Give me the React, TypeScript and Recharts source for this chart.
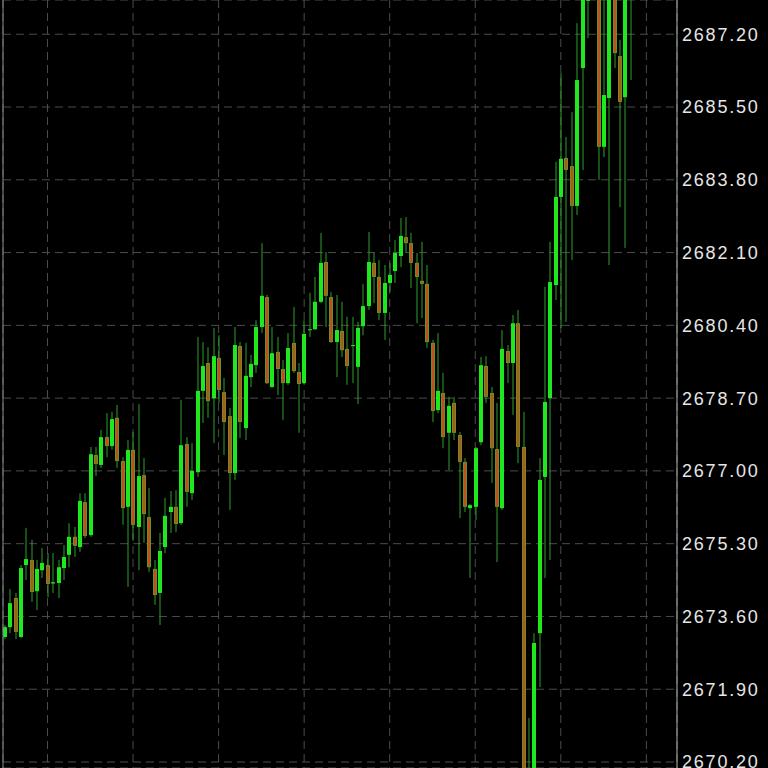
import React from 'react';
import { ComposedChart, Bar, XAxis, YAxis, CartesianGrid } from 'recharts';

// OHLC per bar (oldest first)
const opens = [
  2673.12, 2673.35, 2674.03, 2673.12, 2674.8, 2674.92, 2674.19, 2674.68, 2674.8, 2674.37,
  2674.38, 2674.73, 2675.04, 2675.46, 2675.22, 2676.27, 2675.5, 2677.37, 2677.14, 2677.79,
  2677.58, 2678.24, 2677.23, 2676.16, 2677.49, 2675.69, 2676.9, 2675.92, 2674.71, 2674.15,
  2675.22, 2676.04, 2676.16, 2675.78, 2677.63, 2676.48, 2676.97, 2678.87, 2679.52, 2678.7,
  2679.64, 2678.84, 2678.28, 2676.95, 2679.92, 2678.0, 2679.19, 2679.47, 2680.36, 2681.06,
  2678.96, 2679.78, 2679.38, 2679.05, 2679.99, 2679.31, 2679.05, 2680.29, 2680.31, 2680.95,
  2681.88, 2681.06, 2680.01, 2680.27, 2679.85, 2679.94, 2679.43, 2680.38, 2680.85, 2681.86,
  2681.53, 2680.69, 2681.39, 2681.67, 2682.02, 2682.46, 2682.32, 2681.86, 2681.44, 2681.37,
  2679.99, 2678.42, 2678.82, 2677.89, 2678.59, 2677.84, 2677.21, 2676.13, 2676.16, 2677.67,
  2679.45, 2678.82, 2677.51, 2676.13, 2679.8, 2679.52, 2680.45, 2677.56, 2669.31, 2669.55,
  2673.21, 2676.86, 2678.7, 2681.34, 2683.4, 2684.31, 2684.12, 2683.19, 2686.41, 2687.98,
  2688.23, 2688.7, 2684.57, 2685.71, 2688.47, 2686.69, 2685.73, 2688.12,
];
const highs = [
  2673.4, 2674.24, 2674.15, 2674.8, 2675.67, 2675.39, 2674.92, 2675.2, 2675.08, 2675.08,
  2674.92, 2675.27, 2675.78, 2675.69, 2676.48, 2676.48, 2677.56, 2677.56, 2677.96, 2678.35,
  2678.38, 2678.54, 2677.32, 2677.72, 2677.91, 2678.56, 2677.3, 2676.6, 2674.92, 2675.55,
  2676.37, 2676.53, 2676.55, 2678.66, 2677.79, 2677.65, 2680.13, 2680.01, 2679.89, 2680.34,
  2680.17, 2679.17, 2678.47, 2680.36, 2680.01, 2679.99, 2679.71, 2680.52, 2682.32, 2681.11,
  2680.36, 2680.13, 2679.59, 2680.22, 2680.83, 2679.52, 2680.52, 2681.16, 2681.53, 2682.56,
  2682.11, 2681.18, 2681.11, 2680.95, 2680.6, 2680.6, 2680.48, 2681.37, 2682.58, 2682.09,
  2681.93, 2681.81, 2681.86, 2682.39, 2682.91, 2682.93, 2682.56, 2682.09, 2682.35, 2681.81,
  2680.06, 2680.22, 2679.29, 2678.73, 2678.73, 2677.91, 2677.3, 2676.23, 2677.56, 2679.66,
  2679.68, 2678.96, 2678.59, 2680.29, 2679.94, 2680.64, 2680.76, 2678.38, 2671.23, 2673.21,
  2677.3, 2681.3, 2682.35, 2684.22, 2686.29, 2684.8, 2685.38, 2687.46, 2689.17, 2688.93,
  2689.05, 2688.93, 2688.23, 2688.7, 2688.7, 2687.07, 2688.7, 2688.93,
];
const lows = [
  2673.07, 2673.21, 2673.07, 2673.1, 2674.45, 2673.94, 2673.75, 2674.5, 2674.05, 2674.15,
  2674.03, 2674.45, 2674.75, 2674.99, 2675.11, 2675.43, 2675.46, 2676.88, 2677.07, 2677.32,
  2677.49, 2677.07, 2675.74, 2674.29, 2675.39, 2674.68, 2675.32, 2674.64, 2673.87, 2673.4,
  2675.08, 2675.55, 2675.57, 2675.74, 2676.16, 2676.32, 2676.86, 2678.12, 2678.24, 2677.65,
  2678.59, 2677.37, 2676.09, 2676.79, 2677.77, 2677.72, 2678.96, 2679.29, 2680.22, 2679.03,
  2678.94, 2678.77, 2678.19, 2679.01, 2679.29, 2677.89, 2679.03, 2680.13, 2680.29, 2680.92,
  2680.36, 2679.99, 2679.19, 2679.66, 2679.01, 2679.05, 2678.56, 2680.17, 2680.76, 2680.92,
  2680.52, 2680.06, 2681.18, 2681.39, 2681.76, 2682.09, 2681.27, 2680.45, 2680.57, 2679.87,
  2678.14, 2678.35, 2677.53, 2677.02, 2677.72, 2675.9, 2676.04, 2674.5, 2675.85, 2677.6,
  2678.59, 2676.72, 2674.87, 2676.09, 2679.05, 2678.31, 2677.18, 2669.31, 2669.08, 2669.31,
  2671.95, 2674.5, 2674.92, 2680.99, 2680.34, 2680.48, 2681.93, 2682.98, 2684.03, 2687.11,
  2688.12, 2683.8, 2684.33, 2681.81, 2686.41, 2683.16, 2682.21, 2686.13,
];
const closes = [
  2673.35, 2673.91, 2673.24, 2674.73, 2674.94, 2674.17, 2674.71, 2674.85, 2674.36, 2674.4,
  2674.75, 2674.99, 2675.46, 2675.25, 2676.3, 2675.48, 2677.39, 2677.16, 2677.79, 2677.58,
  2678.21, 2677.23, 2676.13, 2677.49, 2675.74, 2676.88, 2675.99, 2674.75, 2674.1, 2675.13,
  2675.95, 2676.16, 2675.76, 2677.6, 2676.51, 2677.0, 2678.87, 2679.45, 2678.63, 2679.68,
  2678.89, 2678.14, 2676.95, 2679.94, 2678.14, 2679.22, 2679.5, 2680.36, 2681.09, 2679.05,
  2679.75, 2679.38, 2679.05, 2679.87, 2679.33, 2679.03, 2680.2, 2680.31, 2680.95, 2681.86,
  2681.09, 2680.01, 2680.29, 2679.82, 2679.45, 2679.94, 2680.34, 2680.85, 2681.88, 2681.53,
  2680.69, 2681.39, 2681.58, 2682.09, 2682.49, 2682.32, 2681.86, 2681.53, 2681.37, 2680.01,
  2678.4, 2678.87, 2677.79, 2678.52, 2677.89, 2677.21, 2676.16, 2676.2, 2677.53, 2679.47,
  2678.73, 2677.53, 2676.16, 2679.85, 2679.52, 2680.45, 2677.56, 2669.66, 2669.9, 2672.98,
  2676.79, 2678.61, 2681.41, 2683.4, 2684.29, 2684.03, 2683.19, 2686.13, 2688.93, 2688.7,
  2688.7, 2684.57, 2685.78, 2688.47, 2686.76, 2685.62, 2688.47, 2688.7,
];

const priceTicks = [2670.2, 2671.9, 2673.6, 2675.3, 2677.0, 2678.7, 2680.4, 2682.1, 2683.8, 2685.5, 2687.2];
const gridBars = [8, 24, 40, 56, 72, 88, 104, 120];

const candles = opens.map((open, i) => ({
  i,
  open,
  high: highs[i],
  low: lows[i],
  close: closes[i],
  range: [lows[i], highs[i]],
}));

const UP = '#1fe81f';
const DOWN = '#b9531b';
const DOWN_EDGE = '#6f8e22';
const WICK = '#2f9f2f';

// draws one candle inside the [low, high] box the Bar gives us
function Candle(props: any) {
  const { x, y, width, height, payload } = props;
  if (!payload || !height) return null;
  const top = height >= 0 ? y : y + height;
  const h = Math.abs(height);
  const k = h / (payload.high - payload.low);
  const py = (v: number) => top + (payload.high - v) * k;
  const cx = Math.round(x + width / 2);
  const up = payload.close >= payload.open;
  const bTop = py(Math.max(payload.open, payload.close));
  const bBot = py(Math.min(payload.open, payload.close));
  const bh = Math.max(1, bBot - bTop);
  return (
    <g>
      <rect x={cx - 0.5} y={top} width={1} height={h} fill={WICK} />
      {up ? (
        <rect x={cx - 2} y={bTop} width={4} height={bh} fill={UP} />
      ) : (
        <rect x={cx - 1.5} y={bTop + 0.5} width={3} height={Math.max(0.5, bh - 1)} fill={DOWN} stroke={DOWN_EDGE} strokeWidth={1} />
      )}
    </g>
  );
}

function PriceTick(props: any) {
  const { x, y, payload } = props;
  return (
    <text x={x} y={y} dy="0.355em" textAnchor="start" fill="#e6e6e6" fontSize={18} fontFamily="'Liberation Sans', Arial, sans-serif" letterSpacing={1.8}>
      {Number(payload.value).toFixed(2)}
    </text>
  );
}

export default function App() {
  return (
    <div style={{ width: 768, height: 768, background: '#000' }}>
      <style>{'body{margin:0;background:#000}'}</style>
      <ComposedChart width={768} height={768} data={candles} margin={{ top: 0, right: 0, bottom: 0, left: 0 }}>
        <CartesianGrid yAxisId="price" stroke="#4c4c4c" strokeDasharray="8 5" />
        <XAxis type="number" dataKey="i" domain={[-0.32, 125.73]} ticks={gridBars} allowDataOverflow hide />
        <YAxis
          yAxisId="frame"
          orientation="left"
          width={3}
          domain={[2670.06, 2688.0]}
          allowDataOverflow
          tick={false}
          tickLine={false}
          axisLine={{ stroke: '#8c8c8c' }}
        />
        <YAxis
          yAxisId="price"
          orientation="right"
          width={91}
          domain={[2670.06, 2688.0]}
          ticks={priceTicks}
          interval={0}
          allowDataOverflow
          tickLine={false}
          tickSize={0}
          tickMargin={5}
          axisLine={{ stroke: '#b4b4b4' }}
          tick={<PriceTick />}
        />
        <Bar yAxisId="price" dataKey="range" barSize={4} shape={<Candle />} isAnimationActive={false} />
      </ComposedChart>
    </div>
  );
}
